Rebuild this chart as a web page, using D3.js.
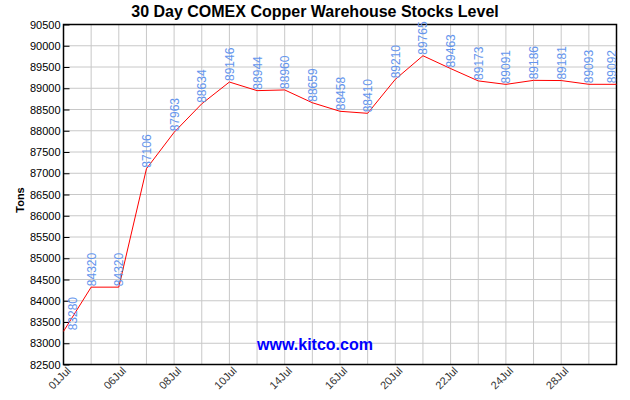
<!DOCTYPE html>
<html>
<head>
<meta charset="UTF-8">
<title>30 Day COMEX Copper Warehouse Stocks Level</title>
<script src="https://d3js.org/d3.v7.min.js"></script>
<style>
  body { margin: 0; background: #fff; }
  text { font-family: "Liberation Sans", Arial, sans-serif; }
</style>
</head>
<body>
<svg id="chart"></svg>
<script>
const dates = ["01Jul","02Jul","06Jul","07Jul","08Jul","09Jul","10Jul","13Jul","14Jul","15Jul","16Jul",
               "17Jul","20Jul","21Jul","22Jul","23Jul","24Jul","27Jul","28Jul","29Jul","30Jul"];
const stocks = [83280, 84320, 84320, 87106, 87963, 88634, 89146, 88944, 88960, 88659, 88458,
                88410, 89210, 89765, 89463, 89173, 89091, 89186, 89181, 89093, 89092];
const tickDates = ["01Jul","06Jul","08Jul","10Jul","14Jul","16Jul","20Jul","22Jul","24Jul","28Jul"];
const yTicks = d3.range(82500, 90501, 500);

const W = 630, H = 400;
const m = {top: 24.5, right: 13.5, bottom: 35.5, left: 63.5};
const w = W - m.left - m.right, h = H - m.top - m.bottom;

const svg = d3.select("#chart").attr("width", W).attr("height", H);

const x = d3.scalePoint().domain(dates).range([0, w]);
const y = d3.scaleLinear().domain([82500, 90500]).range([h, 0]);

const g = svg.append("g").attr("transform", `translate(${m.left},${m.top})`);

// grid
g.append("g").selectAll("line").data(dates).enter().append("line")
  .attr("x1", d => x(d)).attr("x2", d => x(d)).attr("y1", 0).attr("y2", h)
  .attr("stroke", "#c8c8c8");
g.append("g").selectAll("line").data(yTicks).enter().append("line")
  .attr("x1", 0).attr("x2", w).attr("y1", d => y(d)).attr("y2", d => y(d))
  .attr("stroke", "#c8c8c8");

// y axis, ticks pointing inward
const yAxis = g.append("g")
  .call(d3.axisRight(y).tickValues(yTicks).tickSize(6).tickFormat(d3.format("d")));
yAxis.select(".domain").remove();
yAxis.selectAll("text").attr("x", -3).attr("text-anchor", "end")
  .style("font-size", "11px").attr("fill", "#000");

// x axis labels
g.append("g").selectAll("text").data(tickDates).enter().append("text")
  .attr("transform", d => `translate(${x(d) + 8},${h + 7}) rotate(-45)`)
  .attr("text-anchor", "end")
  .style("font-size", "11px").attr("fill", "#333")
  .text(d => d);

// frame
g.append("rect").attr("width", w).attr("height", h)
  .attr("fill", "none").attr("stroke", "#000").attr("stroke-width", 1.5);

// line
g.append("path").datum(stocks)
  .attr("fill", "none").attr("stroke", "#ff0000").attr("stroke-width", 1)
  .attr("d", d3.line().x((d, i) => x(dates[i])).y(d => y(d)));

// value labels
g.append("g").selectAll("text").data(stocks).enter().append("text")
  .attr("transform", (d, i) => {
    let px = x(dates[i]) + 4.5;
    px = Math.max(13, Math.min(w - 1, px));
    return `translate(${px},${y(d) - 1}) rotate(-90)`;
  })
  .style("font-size", "12px").attr("fill", "#6495ed")
  .text(d => d);

// watermark
svg.append("text").attr("x", 315).attr("y", 350).attr("text-anchor", "middle")
  .style("font-size", "16px").style("font-weight", "bold").attr("fill", "#0000ff")
  .text("www.kitco.com");

// title
svg.append("text").attr("x", 315).attr("y", 17).attr("text-anchor", "middle")
  .style("font-size", "16px").style("font-weight", "bold").attr("fill", "#000")
  .text("30 Day COMEX Copper Warehouse Stocks Level");

// y title
svg.append("text").attr("transform", "translate(24,200) rotate(-90)")
  .attr("text-anchor", "middle")
  .style("font-size", "11px").style("font-weight", "bold").attr("fill", "#000")
  .text("Tons");
</script>
</body>
</html>
